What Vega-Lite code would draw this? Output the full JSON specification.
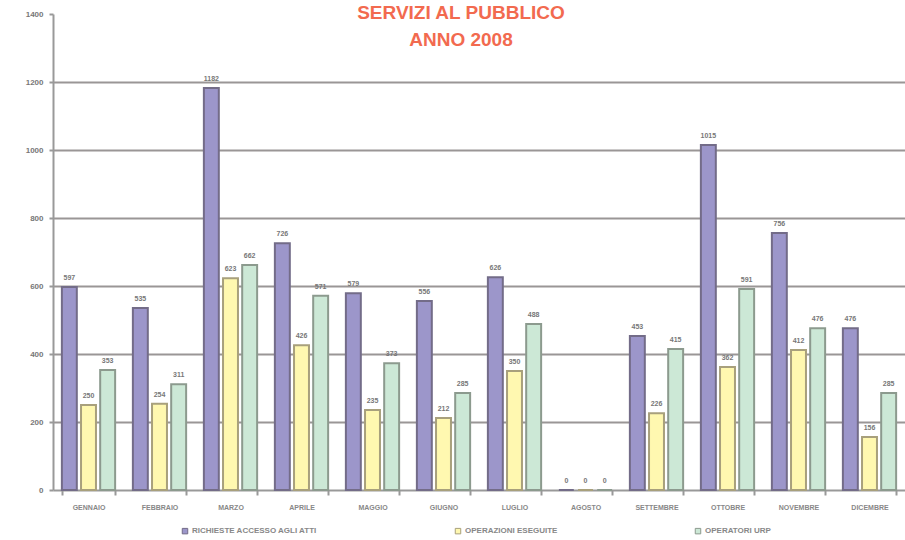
{
  "$schema": "https://vega.github.io/schema/vega-lite/v6.json",
  "width": 852,
  "height": 476,
  "autosize": "none",
  "padding": {"left": 53, "top": 14, "right": 0, "bottom": 50},
  "background": "white",
  "config": {
    "view": {"stroke": null},
    "font": "Liberation Sans"
  },
  "title": {
    "text": ["SERVIZI AL PUBBLICO", "ANNO 2008"],
    "anchor": "middle",
    "frame": "group",
    "offset": -40,
    "dx": -18,
    "fontSize": 19,
    "fontWeight": "bold",
    "lineHeight": 27,
    "color": "#F26A4F"
  },
  "data": {
    "values": [
      {"mese": "GENNAIO", "serie": "RICHIESTE ACCESSO AGLI ATTI", "valore": 597},
      {"mese": "GENNAIO", "serie": "OPERAZIONI ESEGUITE", "valore": 250},
      {"mese": "GENNAIO", "serie": "OPERATORI URP", "valore": 353},
      {"mese": "FEBBRAIO", "serie": "RICHIESTE ACCESSO AGLI ATTI", "valore": 535},
      {"mese": "FEBBRAIO", "serie": "OPERAZIONI ESEGUITE", "valore": 254},
      {"mese": "FEBBRAIO", "serie": "OPERATORI URP", "valore": 311},
      {"mese": "MARZO", "serie": "RICHIESTE ACCESSO AGLI ATTI", "valore": 1182},
      {"mese": "MARZO", "serie": "OPERAZIONI ESEGUITE", "valore": 623},
      {"mese": "MARZO", "serie": "OPERATORI URP", "valore": 662},
      {"mese": "APRILE", "serie": "RICHIESTE ACCESSO AGLI ATTI", "valore": 726},
      {"mese": "APRILE", "serie": "OPERAZIONI ESEGUITE", "valore": 426},
      {"mese": "APRILE", "serie": "OPERATORI URP", "valore": 571},
      {"mese": "MAGGIO", "serie": "RICHIESTE ACCESSO AGLI ATTI", "valore": 579},
      {"mese": "MAGGIO", "serie": "OPERAZIONI ESEGUITE", "valore": 235},
      {"mese": "MAGGIO", "serie": "OPERATORI URP", "valore": 373},
      {"mese": "GIUGNO", "serie": "RICHIESTE ACCESSO AGLI ATTI", "valore": 556},
      {"mese": "GIUGNO", "serie": "OPERAZIONI ESEGUITE", "valore": 212},
      {"mese": "GIUGNO", "serie": "OPERATORI URP", "valore": 285},
      {"mese": "LUGLIO", "serie": "RICHIESTE ACCESSO AGLI ATTI", "valore": 626},
      {"mese": "LUGLIO", "serie": "OPERAZIONI ESEGUITE", "valore": 350},
      {"mese": "LUGLIO", "serie": "OPERATORI URP", "valore": 488},
      {"mese": "AGOSTO", "serie": "RICHIESTE ACCESSO AGLI ATTI", "valore": 0},
      {"mese": "AGOSTO", "serie": "OPERAZIONI ESEGUITE", "valore": 0},
      {"mese": "AGOSTO", "serie": "OPERATORI URP", "valore": 0},
      {"mese": "SETTEMBRE", "serie": "RICHIESTE ACCESSO AGLI ATTI", "valore": 453},
      {"mese": "SETTEMBRE", "serie": "OPERAZIONI ESEGUITE", "valore": 226},
      {"mese": "SETTEMBRE", "serie": "OPERATORI URP", "valore": 415},
      {"mese": "OTTOBRE", "serie": "RICHIESTE ACCESSO AGLI ATTI", "valore": 1015},
      {"mese": "OTTOBRE", "serie": "OPERAZIONI ESEGUITE", "valore": 362},
      {"mese": "OTTOBRE", "serie": "OPERATORI URP", "valore": 591},
      {"mese": "NOVEMBRE", "serie": "RICHIESTE ACCESSO AGLI ATTI", "valore": 756},
      {"mese": "NOVEMBRE", "serie": "OPERAZIONI ESEGUITE", "valore": 412},
      {"mese": "NOVEMBRE", "serie": "OPERATORI URP", "valore": 476},
      {"mese": "DICEMBRE", "serie": "RICHIESTE ACCESSO AGLI ATTI", "valore": 476},
      {"mese": "DICEMBRE", "serie": "OPERAZIONI ESEGUITE", "valore": 156},
      {"mese": "DICEMBRE", "serie": "OPERATORI URP", "valore": 285}
    ]
  },
  "encoding": {
    "x": {
      "field": "mese",
      "type": "nominal",
      "sort": ["GENNAIO", "FEBBRAIO", "MARZO", "APRILE", "MAGGIO", "GIUGNO", "LUGLIO", "AGOSTO", "SETTEMBRE", "OTTOBRE", "NOVEMBRE", "DICEMBRE"],
      "scale": {"paddingInner": 0.25, "paddingOuter": 0.125},
      "axis": {
        "title": null,
        "labelAngle": 0,
        "labelFontSize": 7,
        "labelFontWeight": "bold",
        "labelColor": "#888888",
        "labelPadding": 8,
        "tickBand": "extent",
        "tickSize": 5,
        "tickColor": "#999999",
        "tickWidth": 2,
        "domainColor": "#999999",
        "domainWidth": 2,
        "grid": false
      }
    },
    "xOffset": {
      "field": "serie",
      "type": "nominal",
      "sort": ["RICHIESTE ACCESSO AGLI ATTI", "OPERAZIONI ESEGUITE", "OPERATORI URP"],
      "scale": {"paddingInner": 0.22, "paddingOuter": 0}
    },
    "y": {
      "field": "valore",
      "type": "quantitative",
      "scale": {"domain": [0, 1400], "nice": false},
      "axis": {
        "title": null,
        "values": [0, 200, 400, 600, 800, 1000, 1200, 1400],
        "format": "d",
        "labelFontSize": 8,
        "labelFontWeight": "bold",
        "labelColor": "#777777",
        "labelPadding": 6,
        "tickSize": 4,
        "tickColor": "#999999",
        "tickWidth": 2,
        "domainColor": "#999999",
        "domainWidth": 2,
        "grid": true,
        "gridColor": {"condition": {"test": "datum.value >= 1400 || datum.value <= 0", "value": "transparent"}, "value": "#9A9696"},
        "gridWidth": 2
      }
    }
  },
  "layer": [
    {
      "mark": {"type": "bar", "strokeWidth": 2},
      "encoding": {
        "color": {
          "field": "serie",
          "type": "nominal",
          "sort": ["RICHIESTE ACCESSO AGLI ATTI", "OPERAZIONI ESEGUITE", "OPERATORI URP"],
          "scale": {
            "domain": ["RICHIESTE ACCESSO AGLI ATTI", "OPERAZIONI ESEGUITE", "OPERATORI URP"],
            "range": ["#9C96CA", "#FFF8B0", "#CCE8D6"]
          },
          "legend": {
            "title": null,
            "orient": "none",
            "legendX": 128,
            "legendY": 513,
            "direction": "horizontal",
            "symbolType": "square",
            "symbolSize": 30,
            "symbolStrokeColor": "#888888",
            "symbolStrokeWidth": 1,
            "labelFontSize": 8,
            "labelFontWeight": "bold",
            "labelColor": "#888888",
            "columnPadding": 135,
            "labelOffset": 3
          }
        },
        "stroke": {
          "field": "serie",
          "type": "nominal",
          "scale": {
            "domain": ["RICHIESTE ACCESSO AGLI ATTI", "OPERAZIONI ESEGUITE", "OPERATORI URP"],
            "range": ["#736C88", "#A8A07C", "#8C9A8E"]
          },
          "legend": null
        }
      }
    },
    {
      "mark": {"type": "text", "dy": -9, "fontSize": 7, "fontWeight": "bold", "color": "#777777"},
      "encoding": {
        "text": {"field": "valore", "type": "quantitative"}
      }
    }
  ]
}
